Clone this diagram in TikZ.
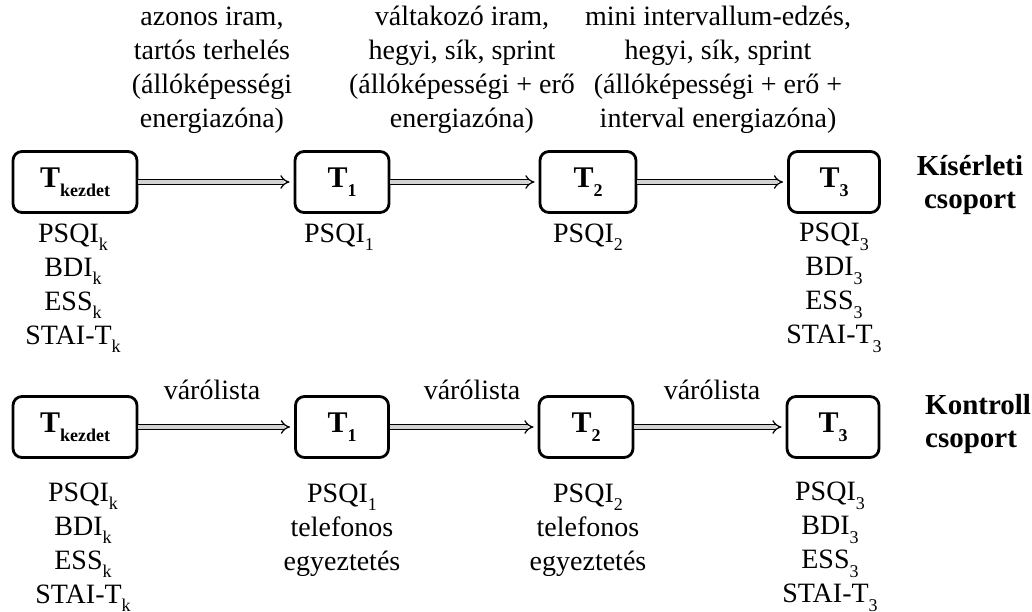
\documentclass[tikz,border=0pt]{standalone}
\usepackage{fontspec}
\setmainfont{Liberation Serif}
\usetikzlibrary{arrows.meta}
% lowered index in a smaller size
\newcommand{\lowidx}[1]{\raisebox{-0.3em}{\fontsize{18}{18}\selectfont #1}}
\tikzset{
  stage/.style={draw, line width=2.8pt, rounded corners=9pt, minimum height=61pt,
    inner sep=0pt, font=\fontsize{30}{32}\selectfont\bfseries},
  note/.style={align=center, inner sep=0pt, font=\fontsize{28}{34}\selectfont},
  grouplabel/.style={inner sep=0pt, font=\fontsize{29}{33}\selectfont\bfseries},
  flow/.style={double, double distance=3.4pt, line width=1.3pt, double=gray!35,
    -{Implies}, shorten >=4pt}
}
\begin{document}
\begin{tikzpicture}[x=1pt,y=-1pt]
\useasboundingbox (0,0) rectangle (1032,612);

% experimental group
\node[stage, minimum width=124pt] (k1) at (75,182) {T\lowidx{kezdet}};
\node[stage, minimum width=94pt]  (a1) at (342,182) {T\lowidx{1}};
\node[stage, minimum width=96pt]  (b1) at (588,182) {T\lowidx{2}};
\node[stage, minimum width=91pt]  (c1) at (834,182) {T\lowidx{3}};

\draw[flow] (k1.east) -- (a1.west);
\draw[flow] (a1.east) -- (b1.west);
\draw[flow] (b1.east) -- (c1.west);

\node[note] (p1) at (212,70) {azonos iram,\\tartós terhelés\\(állóképességi\\energiazóna)};
\node[note] (p2) at (462,70) {váltakozó iram,\\hegyi, sík, sprint\\(állóképességi + erő\\energiazóna)};
\node[note] (p3) at (718,70) {mini intervallum-edzés,\\hegyi, sík, sprint\\(állóképességi + erő +\\interval energiazóna)};

\node[note] (mk1) at (73,288) {PSQI\lowidx{k}\\BDI\lowidx{k}\\ESS\lowidx{k}\\STAI-T\lowidx{k}};
\node[note] (ma1) at (339,237) {PSQI\lowidx{1}};
\node[note] (mb1) at (588,237) {PSQI\lowidx{2}};
\node[note] (mc1) at (834,288) {PSQI\lowidx{3}\\BDI\lowidx{3}\\ESS\lowidx{3}\\STAI-T\lowidx{3}};

\node[grouplabel, align=center] (g1) at (970,185) {Kísérleti\\csoport};

% control group
\node[stage, minimum width=124pt] (k2) at (75,427) {T\lowidx{kezdet}};
\node[stage, minimum width=93pt]  (a2) at (342,427) {T\lowidx{1}};
\node[stage, minimum width=94pt]  (b2) at (586,427) {T\lowidx{2}};
\node[stage, minimum width=92pt]  (c2) at (833,427) {T\lowidx{3}};

\draw[flow] (k2.east) -- (a2.west);
\draw[flow] (a2.east) -- (b2.west);
\draw[flow] (b2.east) -- (c2.west);

\node[note] (w1) at (212,390) {várólista};
\node[note] (w2) at (472,390) {várólista};
\node[note] (w3) at (712,390) {várólista};

\node[note] (mk2) at (83,547) {PSQI\lowidx{k}\\BDI\lowidx{k}\\ESS\lowidx{k}\\STAI-T\lowidx{k}};
\node[note] (ma2) at (342,530) {PSQI\lowidx{1}\\telefonos\\egyeztetés};
\node[note] (mb2) at (588,530) {PSQI\lowidx{2}\\telefonos\\egyeztetés};
\node[note] (mc2) at (830,547) {PSQI\lowidx{3}\\BDI\lowidx{3}\\ESS\lowidx{3}\\STAI-T\lowidx{3}};

\node[grouplabel, align=left, anchor=west] (g2) at (925,424) {Kontroll\\csoport};
\end{tikzpicture}
\end{document}
